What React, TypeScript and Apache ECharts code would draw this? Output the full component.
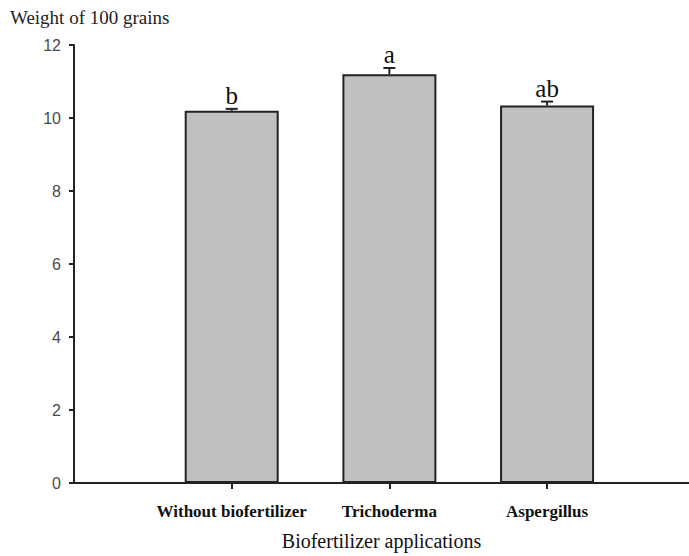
import React, { useEffect, useRef } from "react";
import * as echarts from "echarts";

const categories = ["Without biofertilizer", "Trichoderma", "Aspergillus"];
const positions = [1, 2, 3];
const means = [10.2, 11.2, 10.34];
const errors = [0.05, 0.17, 0.11];
const letters = ["b", "a", "ab"];
const yTicks = [0, 2, 4, 6, 8, 10, 12];

export default function App() {
  const ref = useRef<HTMLDivElement>(null);
  useEffect(() => {
    if (!ref.current) return;
    const chart = echarts.init(ref.current, null, { renderer: "svg" });
    const serif = "'Liberation Serif', 'Times New Roman', serif";
    const sans = "'Liberation Sans', Arial, sans-serif";
    chart.setOption({
      animation: false,
      grid: { left: 74, top: 45, right: 0, bottom: 72, containLabel: false },
      xAxis: {
        type: "value",
        min: 0,
        max: 3.9,
        name: "Biofertilizer applications",
        nameLocation: "middle",
        nameGap: 48,
        nameTextStyle: { fontFamily: serif, fontSize: 20, color: "#111" },
        splitLine: { show: false },
        axisLine: { show: true, lineStyle: { color: "#222", width: 2 } },
        axisTick: {
          show: true,
          customValues: positions,
          length: 6,
          lineStyle: { color: "#222", width: 2 },
        },
        axisLabel: {
          customValues: positions,
          margin: 20,
          fontFamily: serif,
          fontWeight: "bold",
          fontSize: 17,
          color: "#111",
          formatter: (v: number) => {
            const i = positions.indexOf(Math.round(v));
            return i >= 0 ? categories[i] : "";
          },
        },
      },
      yAxis: {
        type: "value",
        min: 0,
        max: 12,
        interval: 2,
        name: "Weight of 100 grains",
        nameLocation: "end",
        nameGap: 18,
        nameTextStyle: {
          fontFamily: serif,
          fontSize: 19,
          color: "#222",
          align: "left",
          padding: [0, 0, 0, -64],
        },
        splitLine: { show: false },
        axisLine: { show: true, lineStyle: { color: "#222", width: 2 } },
        axisTick: { show: true, length: 5, lineStyle: { color: "#222", width: 2 } },
        axisLabel: {
          margin: 13,
          fontFamily: sans,
          fontSize: 16,
          color: "#4a4a4a",
          customValues: yTicks,
        },
      },
      series: [
        {
          type: "bar",
          barWidth: 94,
          data: positions.map((p, i) => [p, means[i]]),
          itemStyle: { color: "#c0c0c0", borderColor: "#222", borderWidth: 2 },
        },
        {
          type: "custom",
          data: positions.map((p, i) => [p, means[i], errors[i], i]),
          z: 10,
          renderItem: (params: any, api: any) => {
            const x = api.value(0);
            const m = api.value(1);
            const e = api.value(2);
            const idx = api.value(3);
            const top = api.coord([x, m + e]);
            const base = api.coord([x, m]);
            const hw = 6;
            return {
              type: "group",
              children: [
                {
                  type: "line",
                  shape: { x1: top[0], y1: base[1], x2: top[0], y2: top[1] },
                  style: { stroke: "#222", lineWidth: 2 },
                },
                {
                  type: "line",
                  shape: { x1: top[0] - hw, y1: top[1], x2: top[0] + hw, y2: top[1] },
                  style: { stroke: "#222", lineWidth: 2 },
                },
                {
                  type: "text",
                  x: top[0],
                  y: top[1] - 1,
                  style: {
                    text: letters[idx],
                    fontFamily: serif,
                    fontSize: 25,
                    fill: "#111",
                    align: "center",
                    verticalAlign: "bottom",
                  },
                },
              ],
            };
          },
        },
      ],
    });
    return () => chart.dispose();
  }, []);
  return (
    <div
      ref={ref}
      style={{ position: "fixed", left: 0, top: 0, width: 689, height: 556, background: "#fff" }}
    />
  );
}
